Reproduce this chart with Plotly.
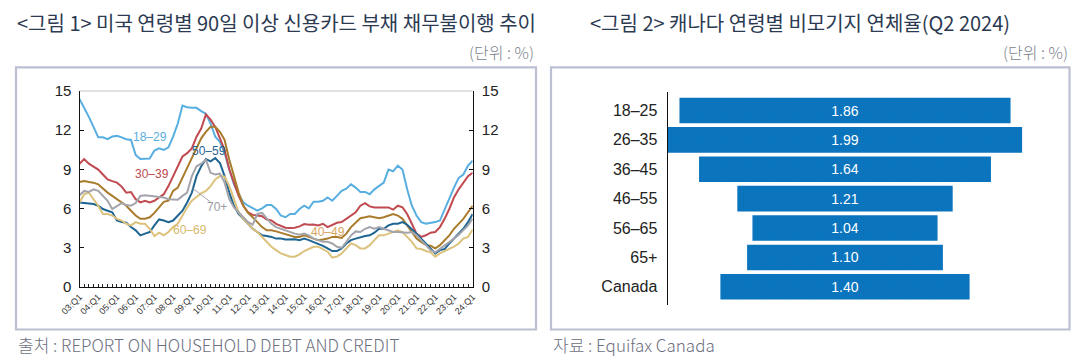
import plotly.graph_objects as go

# page body has an 8px margin: draw on a slightly smaller canvas and offset coordinates
PAGE_MARGIN = 8
W, H = 1092 - PAGE_MARGIN, 357 - PAGE_MARGIN

# ---------------- data: chart 1 (US, quarterly 03Q1..24Q1) ----------------
year_ticks = ["03:Q1", "04:Q1", "05:Q1", "06:Q1", "07:Q1", "08:Q1", "09:Q1", "10:Q1",
              "11:Q1", "12:Q1", "13:Q1", "14:Q1", "15:Q1", "16:Q1", "17:Q1", "18:Q1",
              "19:Q1", "20:Q1", "21:Q1", "22:Q1", "23:Q1", "24:Q1"]

age_18_29 = [14.37, 13.74, 13.0, 12.24, 11.44, 11.44, 11.3, 11.5, 11.55, 11.44, 11.3, 11.24,
             10.1, 9.78, 9.78, 9.83, 10.43, 10.6, 10.48, 10.68, 11.49, 12.49, 13.87, 13.74,
             13.69, 13.69, 13.44, 13.24, 12.49, 11.49, 11.1, 10.23, 8.98, 7.85, 7.1, 6.47,
             6.22, 6.02, 5.84, 6.02, 6.27, 6.27, 5.97, 5.47, 5.34, 5.59, 5.59, 5.97,
             6.22, 6.02, 6.52, 6.52, 6.6, 6.85, 6.6, 6.97, 7.35, 7.52, 7.85, 7.6,
             7.27, 7.27, 7.1, 7.47, 7.72, 7.98, 8.98, 8.85, 9.28, 8.98, 7.47, 6.22,
             5.47, 4.97, 4.84, 4.89, 4.97, 5.09, 5.97, 6.72, 7.6, 8.35, 8.6, 9.28, 9.66]

age_30_39 = [9.43, 9.78, 9.43, 9.18, 8.98, 8.6, 8.23, 8.1, 7.98, 7.68, 7.22, 7.27,
             6.72, 6.47, 6.6, 6.47, 6.6, 6.85, 7.1, 7.72, 8.48, 9.23, 9.98, 10.23,
             10.6, 11.49, 12.11, 13.19, 12.79, 12.24, 11.36, 10.48, 8.98, 7.98, 6.97, 6.22,
             5.72, 5.52, 5.47, 5.42, 5.17, 5.09, 4.84, 4.72, 4.54, 4.51, 4.54, 4.64,
             4.82, 4.77, 4.79, 4.72, 4.84, 4.59, 4.77, 4.92, 4.97, 5.22, 5.42, 5.72,
             6.22, 6.42, 6.17, 6.09, 6.09, 6.09, 6.09, 5.92, 6.22, 6.09, 5.59, 4.84,
             4.09, 3.84, 3.96, 4.16, 4.21, 4.59, 5.22, 5.97, 6.85, 7.47, 7.98, 8.48, 8.73]

age_40_49 = [8.03, 8.1, 8.03, 7.98, 7.85, 7.52, 7.22, 6.97, 6.72, 6.47, 6.22, 5.84,
             5.47, 5.22, 5.22, 5.34, 5.67, 6.09, 6.52, 6.6, 7.35, 7.6, 8.35, 9.23,
             9.98, 10.73, 11.36, 11.86, 12.24, 12.24, 11.86, 11.24, 9.73, 8.48, 7.22, 6.22,
             5.67, 5.34, 4.97, 4.59, 4.34, 4.34, 4.26, 4.16, 4.04, 3.96, 3.84, 3.84,
             3.96, 3.84, 3.71, 3.59, 3.64, 3.71, 3.84, 3.84, 3.76, 4.09, 4.59, 4.97,
             5.27, 5.34, 5.42, 5.34, 5.27, 5.34, 5.47, 5.59, 5.47, 5.22, 4.72, 4.21,
             3.71, 3.46, 3.21, 3.16, 2.96, 3.21, 3.59, 3.96, 4.46, 4.84, 5.22, 5.72, 6.22]

age_50_59 = [6.47, 6.42, 6.35, 6.35, 6.22, 5.97, 5.84, 5.72, 5.09, 4.97, 4.92, 4.59,
             4.34, 3.96, 4.09, 4.21, 4.72, 5.17, 5.09, 4.97, 5.09, 5.47, 5.84, 6.47,
             7.22, 8.48, 9.23, 9.78, 9.61, 9.86, 9.48, 8.48, 7.22, 6.22, 5.59, 5.22,
             4.84, 4.46, 4.21, 3.96, 3.91, 3.84, 3.71, 3.71, 3.64, 3.66, 3.66, 3.59,
             3.71, 3.59, 3.46, 3.34, 3.16, 2.96, 2.76, 2.76, 2.96, 3.34, 3.59, 3.71,
             3.84, 3.91, 3.96, 4.16, 4.46, 4.46, 4.72, 4.84, 4.84, 4.97, 4.77, 4.46,
             4.09, 3.71, 3.34, 2.96, 2.58, 2.83, 2.91, 3.34, 3.71, 4.09, 4.46, 4.97, 5.59]

age_60_69 = [6.47, 7.1, 7.22, 6.72, 6.22, 5.59, 5.59, 5.47, 5.22, 5.09, 4.84, 4.72,
             4.97, 4.84, 4.84, 4.46, 3.91, 4.16, 3.96, 4.21, 4.59, 4.84, 5.47, 6.09,
             6.6, 6.92, 7.17, 7.35, 7.72, 8.23, 8.48, 8.43, 7.72, 6.72, 5.72, 5.22,
             4.84, 4.46, 4.21, 3.84, 3.46, 3.09, 2.83, 2.58, 2.46, 2.33, 2.33, 2.51,
             2.76, 2.91, 3.09, 3.09, 2.91, 2.71, 2.26, 2.33, 2.58, 2.96, 3.34, 3.21,
             2.96, 2.96, 3.21, 3.59, 3.96, 3.96, 4.09, 4.21, 4.34, 4.21, 3.84, 3.46,
             2.96, 2.91, 2.76, 2.66, 2.33, 2.58, 2.76, 2.91, 3.09, 3.34, 3.71, 3.84, 4.41]

age_70_plus = [7.02, 7.35, 7.27, 7.47, 7.35, 6.97, 6.6, 5.97, 6.22, 6.42, 6.27, 6.22,
               6.42, 6.97, 7.02, 6.97, 6.97, 6.92, 6.85, 6.72, 6.67, 6.67, 6.97, 7.22,
               8.48, 9.23, 9.43, 9.73, 8.73, 8.6, 8.67, 7.98, 6.72, 6.09, 5.72, 5.34,
               4.97, 4.77, 5.59, 5.67, 5.22, 4.84, 4.59, 4.46, 4.34, 4.21, 4.09, 4.01,
               4.09, 3.96, 3.71, 3.59, 3.46, 3.46, 3.34, 3.09, 3.01, 3.46, 3.96, 4.26,
               4.21, 4.46, 4.59, 4.46, 4.59, 4.46, 4.34, 4.21, 4.21, 4.16, 4.16, 4.21,
               3.96, 3.59, 3.21, 2.83, 2.66, 2.91, 3.21, 3.46, 3.71, 4.01, 4.34, 4.72, 5.22]

series_names = ["18–29", "30–39", "40–49", "50–59", "60–69", "70+"]
series_values = [age_18_29, age_30_39, age_40_49, age_50_59, age_60_69, age_70_plus]
series_colors = ["#58aee0", "#c04a50", "#a97b2c", "#1f6592", "#dcc27c", "#a4a5ac"]

y_ticks_left = [0, 3, 6, 9, 12, 15]

# ---------------- data: chart 2 (Canada, Q2 2024) ----------------
ca_groups = ["18–25", "26–35", "36–45", "46–55", "56–65", "65+", "Canada"]
ca_rates = [1.86, 1.99, 1.64, 1.21, 1.04, 1.10, 1.40]

# ---------------- helpers (screen pixel -> paper) ----------------
def px_x(p):
    return (p - PAGE_MARGIN) / W

def px_y(p):
    return 1 - (p - PAGE_MARGIN) / H

n_q = len(age_18_29)
quarters = list(range(n_q))

fig = go.Figure()

for name, vals, col in zip(series_names, series_values, series_colors):
    fig.add_trace(go.Scatter(x=quarters, y=vals, mode="lines", name=name,
                             line=dict(color=col, width=2), xaxis="x", yaxis="y",
                             hoverinfo="skip"))

# invisible trace for the right-hand y axis
fig.add_trace(go.Scatter(x=[0], y=[0], mode="markers", marker=dict(opacity=0),
                         xaxis="x", yaxis="y2", showlegend=False, hoverinfo="skip"))

# Canada centred bars
fig.add_trace(go.Bar(
    y=ca_groups, x=ca_rates, base=[-v / 2 for v in ca_rates], orientation="h",
    marker=dict(color="#0a76c0", line=dict(width=0),
                pattern=dict(shape=".", fgcolor="#0a66a8", size=3, solidity=0.25)),
    text=[f"{v:.2f}" for v in ca_rates], textposition="inside",
    insidetextanchor="middle",
    textfont=dict(color="white", size=14, family="Liberation Sans, Arial, sans-serif"),
    xaxis="x3", yaxis="y3", showlegend=False, hoverinfo="skip", width=0.87,
))

tickfont = dict(family="Liberation Sans, Arial, sans-serif", size=15, color="#222")

L_x0, L_x1 = 79.5, 472.7
L_y0, L_y1 = 90.7, 287.2
R_x0, R_x1 = 666.7, 1040.0
R_y0, R_y1 = 92.3, 305.0
centre, k = 845.0, 178.0

fig.update_layout(
    width=W, height=H, margin=dict(l=0, r=0, t=0, b=0, autoexpand=False),
    paper_bgcolor="white", plot_bgcolor="white", showlegend=False,
    bargap=0.12,
    xaxis=dict(domain=[px_x(L_x0), px_x(L_x1)], range=[0, n_q - 1], automargin=False,
               tickmode="array", tickvals=list(range(0, n_q, 4)), ticktext=year_ticks,
               tickangle=-45, tickfont=dict(family="Liberation Sans, Arial, sans-serif", size=9, color="#333"),
               ticks="inside", ticklen=3, tickcolor="#222",
               minor=dict(tickmode="linear", tick0=0, dtick=1, ticks="inside", ticklen=3, tickcolor="#222"),
               showline=True, linecolor="#111", linewidth=1.2, showgrid=False, zeroline=False,
               anchor="y", fixedrange=True),
    yaxis=dict(domain=[px_y(L_y1), px_y(L_y0)], range=[0, 15], tickvals=y_ticks_left,
               automargin=False,
               tickfont=tickfont, ticks="inside", ticklen=4, tickcolor="#111",
               showline=True, linecolor="#111", linewidth=1.2, showgrid=False, zeroline=False,
               ticklabelstandoff=4, anchor="x"),
    yaxis2=dict(domain=[px_y(L_y1), px_y(L_y0)], range=[0, 15], tickvals=y_ticks_left,
                overlaying="y", side="right", anchor="x", automargin=False,
                tickfont=tickfont, ticks="inside", ticklen=4, tickcolor="#111",
                showline=True, linecolor="#111", linewidth=1.2, showgrid=False, zeroline=False,
                ticklabelstandoff=5),
    xaxis3=dict(domain=[px_x(R_x0), px_x(R_x1)],
                range=[(R_x0 - centre) / k, (R_x1 - centre) / k], automargin=False,
                visible=False, anchor="y3"),
    yaxis3=dict(domain=[px_y(R_y1), px_y(R_y0)], range=[6.62, -0.62], automargin=False,
                type="category", tickfont=dict(family="Liberation Sans, Arial, sans-serif", size=16, color="#222"),
                ticks="", showline=True, linecolor="#111", linewidth=1.2,
                showgrid=False, zeroline=False, anchor="free", position=px_x(R_x0),
                ticklabelstandoff=6),
)

# top frame line of chart 1
fig.add_shape(type="line", xref="x", yref="y", x0=0, x1=n_q - 1, y0=15, y1=15,
              line=dict(color="#8c8c94", width=1.2))

# panel boxes
box_col = "#bcc0d2"
fig.add_shape(type="rect", xref="paper", yref="paper",
              x0=px_x(16), x1=px_x(536), y0=px_y(329.5), y1=px_y(67.3),
              line=dict(color=box_col, width=2.2), layer="below")
fig.add_shape(type="rect", xref="paper", yref="paper",
              x0=px_x(551), x1=px_x(1069.5), y0=px_y(329.5), y1=px_y(67.3),
              line=dict(color=box_col, width=2.2), layer="below")

# 70+ leader line
fig.add_shape(type="line", xref="x", yref="y", x0=24.0, y0=7.6, x1=28.0, y1=6.5,
              line=dict(color="#8e8e96", width=0.8))

# series labels
lab_font = "Liberation Sans Narrow, Liberation Sans, Arial, sans-serif"
series_labels = [
    ("18–29", 15.1, 11.45, "#58aee0"),
    ("30–39", 15.5, 8.65, "#c04a50"),
    ("50–59", 27.7, 10.4, "#1f6592"),
    ("70+", 29.4, 6.1, "#9a9aa4"),
    ("60–69", 23.6, 4.4, "#d6b96c"),
    ("40–49", 53.1, 4.25, "#d8a45c"),
]
for txt, xq, yv, col in series_labels:
    fig.add_annotation(x=xq, y=yv, xref="x", yref="y", text=txt, showarrow=False,
                       font=dict(family=lab_font, size=12, color=col))

title_font = "Noto Sans CJK KR, Noto Sans, sans-serif"
title_col = "#2c3a52"
fig.add_annotation(x=px_x(276), y=px_y(22), xref="paper", yref="paper",
                   text="&lt;그림 1&gt; 미국 연령별 90일 이상 신용카드 부채 채무불이행 추이",
                   showarrow=False, font=dict(family=title_font, size=20, color=title_col),
                   xanchor="center", yanchor="middle")
fig.add_annotation(x=px_x(800), y=px_y(22), xref="paper", yref="paper",
                   text="&lt;그림 2&gt; 캐나다 연령별 비모기지 연체율(Q2 2024)",
                   showarrow=False, font=dict(family=title_font, size=20, color=title_col),
                   xanchor="center", yanchor="middle")

unit_col = "#7a7f8c"
for xr in (536, 1070):
    fig.add_annotation(x=px_x(xr), y=px_y(52), xref="paper", yref="paper",
                       text="(단위 : %)", showarrow=False,
                       font=dict(family=title_font, size=16, color=unit_col, weight=300),
                       xanchor="right", yanchor="middle")

src_col = "#6c7080"
fig.add_annotation(x=px_x(17), y=px_y(344), xref="paper", yref="paper",
                   text="출처 : REPORT ON HOUSEHOLD DEBT AND CREDIT", showarrow=False,
                   font=dict(family=title_font, size=17, color=src_col, weight=300),
                   xanchor="left", yanchor="middle", borderpad=0)
fig.add_annotation(x=px_x(552), y=px_y(344), xref="paper", yref="paper",
                   text="자료 : Equifax Canada", showarrow=False,
                   font=dict(family=title_font, size=17, color=src_col, weight=300),
                   xanchor="left", yanchor="middle", borderpad=0)

fig.write_html("out.html")
